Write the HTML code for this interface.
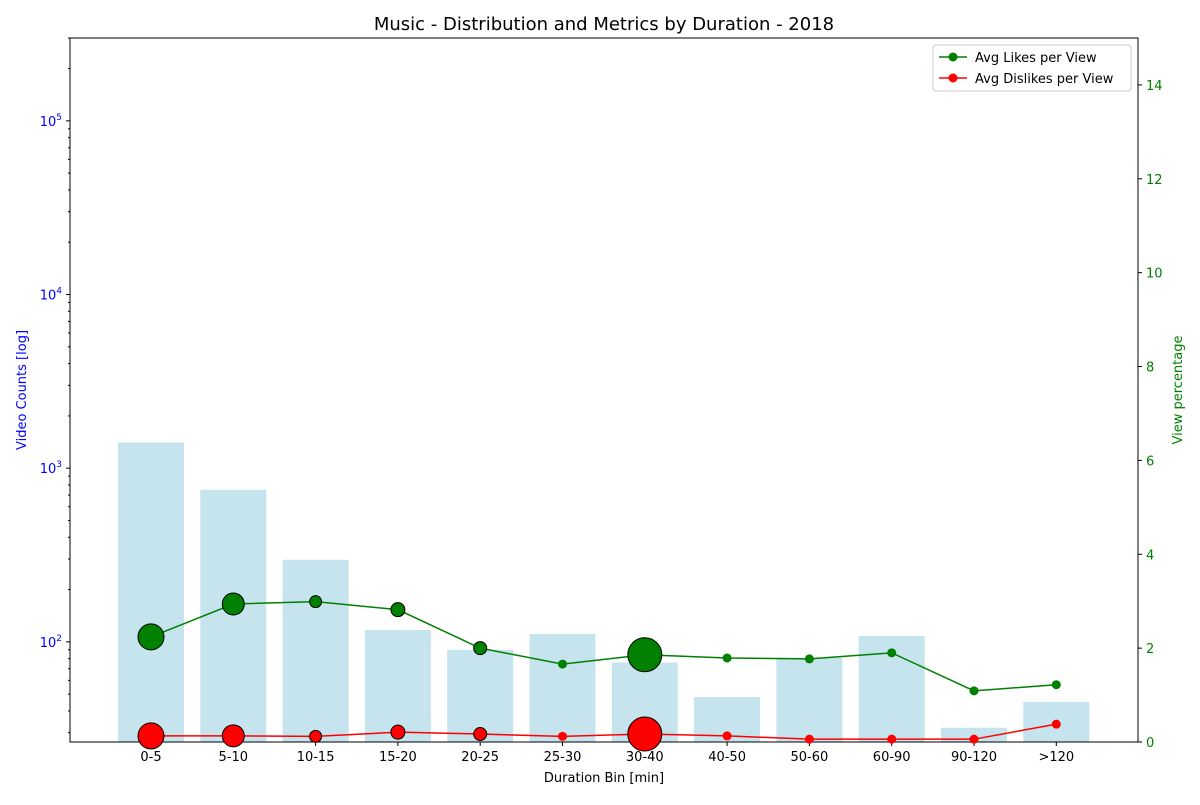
<!DOCTYPE html>
<html><head><meta charset="utf-8"><style>
body{margin:0;background:#fff;font-family:"Liberation Sans","DejaVu Sans",sans-serif;}
</style></head><body>
<svg id="chart" width="1200" height="800" xmlns="http://www.w3.org/2000/svg" font-family="DejaVu Sans, Liberation Sans, sans-serif"></svg>
<script>
const categories=["0-5","5-10","10-15","15-20","20-25","25-30","30-40","40-50","50-60","60-90","90-120",">120"];
const videoCounts=[1403,751,297,117,90,111,76,48,81,108,32,45];
const likesPerView=[2.24,2.94,2.99,2.82,2.0,1.66,1.86,1.79,1.77,1.90,1.09,1.22];
const dislikesPerView=[0.13,0.13,0.12,0.21,0.17,0.12,0.17,0.13,0.06,0.06,0.06,0.38];
const bubbleSizes=[13,11,6,7,6.5,0,17,0,0,0,0,0];
const rightTicks=[0,2,4,6,8,10,12,14];
const leftTicks=[2,3,4,5];

const svg=document.getElementById('chart');
const NS='http://www.w3.org/2000/svg';
const L=70,R=1138,T=38,B=742;
const logMin=Math.log10(26.5),logMax=Math.log10(300000);
function yL(v){return B-(Math.log10(v)-logMin)/(logMax-logMin)*(B-T);}
function yR(v){return B-v/15*(B-T);}
const step=(R-L)/12.98;
function x(i){return 151+i*82.3;}
function el(tag,attrs,txt){const e=document.createElementNS(NS,tag);for(const k in attrs)e.setAttribute(k,attrs[k]);if(txt!==undefined)e.textContent=txt;svg.appendChild(e);return e;}

// bars
categories.forEach((c,i)=>{
 const y=yL(videoCounts[i]);
 const b=el('rect',{x:x(i)-33,y:y,width:66,height:B-y,fill:'#add8e6','fill-opacity':0.7});
 
 
});
// axes frame
const fr=el('rect',{x:L,y:T,width:R-L,height:B-T,fill:'none',stroke:'#000','stroke-width':1});

// x ticks
categories.forEach((c,i)=>{
 el('line',{x1:x(i),x2:x(i),y1:B,y2:B+4,stroke:'#000'});
 const t=el('text',{x:x(i),y:B+19,'text-anchor':'middle','font-size':13},c);
 
});
// left log ticks
leftTicks.forEach(p=>{
 const y=yL(Math.pow(10,p));
 el('line',{x1:L-4,x2:L,y1:y,y2:y,stroke:'#000'});
 const t=el('text',{x:L-8,y:y+5,'text-anchor':'end','font-size':13,fill:'blue'});
 t.innerHTML='10<tspan dy="-6" font-size="9">'+p+'</tspan>';
 
});
for(let p=1;p<=5;p++)for(let m=2;m<=9;m++){const v=m*Math.pow(10,p);if(v<26.5||v>300000)continue;const y=yL(v);el('line',{x1:L-2,x2:L,y1:y,y2:y,stroke:'#000'});}
// right ticks
rightTicks.forEach(v=>{
 const y=yR(v);
 el('line',{x1:R,x2:R+4,y1:y,y2:y,stroke:'#000'});
 const t=el('text',{x:R+8,y:y+5,'font-size':13,fill:'green'},v);
 
});
// lines
function series(vals,color,name){
 const pts=vals.map((v,i)=>x(i)+','+yR(v)).join(' ');
 const l=el('polyline',{points:pts,fill:'none',stroke:color,'stroke-width':1.5});
 
 vals.forEach((v,i)=>{const c=el('circle',{cx:x(i),cy:yR(v),r:4.5,fill:color});
  });
 vals.forEach((v,i)=>{if(!bubbleSizes[i])return;const c=el('circle',{cx:x(i),cy:yR(v),r:bubbleSizes[i],fill:color,stroke:'#000','stroke-width':1});
  });
}
series(likesPerView,'green','likes');
series(dislikesPerView,'red','dislikes');
// titles
let t=el('text',{x:604,y:30,'text-anchor':'middle','font-size':18},'Music - Distribution and Metrics by Duration - 2018');

t=el('text',{x:604,y:782,'text-anchor':'middle','font-size':13},'Duration Bin [min]');

t=el('text',{x:26,y:390,'text-anchor':'middle','font-size':13,fill:'blue',transform:'rotate(-90 26 390)'},'Video Counts [log]');

t=el('text',{x:1182,y:390,'text-anchor':'middle','font-size':13,fill:'green',transform:'rotate(-90 1182 390)'},'View percentage');

// legend
const lg=el('rect',{x:933,y:45,width:198,height:46,fill:'#fff',stroke:'#ccc',rx:3});

[['green','Avg Likes per View',57],['red','Avg Dislikes per View',78]].forEach(([c,n,y])=>{
 el('line',{x1:939,x2:967,y1:y,y2:y,stroke:c,'stroke-width':1.5});
 el('circle',{cx:953,cy:y,r:4.5,fill:c});
 const tt=el('text',{x:975,y:y+5,'font-size':13},n);
 
});
</script>
</body></html>
